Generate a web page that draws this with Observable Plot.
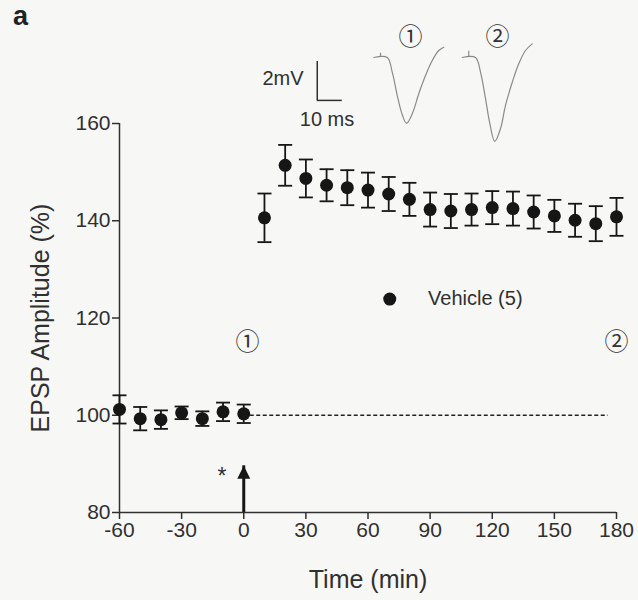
<!DOCTYPE html>
<html><head><meta charset="utf-8">
<script src="https://cdn.jsdelivr.net/npm/d3@7"></script>
<script src="https://cdn.jsdelivr.net/npm/@observablehq/plot@0.6"></script>
<style>
body{margin:0;background:#f7f7f5;}
#wrap{position:relative;width:638px;height:600px;font-family:"Liberation Sans",Arial,sans-serif;}
#panel{position:absolute;left:13px;top:1px;font-size:27px;font-weight:bold;color:#222;}
#main{position:absolute;left:0;top:0;}
#inset{position:absolute;left:250px;top:18px;}
</style></head><body>
<div id="wrap"><div id="panel">a</div><div id="main"></div><div id="inset"></div></div>
<script>
// ---- main time course data ----
const time = [-60,-50,-40,-30,-20,-10,0,10,20,30,40,50,60,70,80,90,100,110,120,130,140,150,160,170,180];
const amplitude = [101.2,99.3,99.1,100.5,99.3,100.7,100.3,140.6,151.4,148.7,147.3,146.8,146.3,145.5,144.4,142.3,142.0,142.3,142.7,142.5,141.8,141.0,140.1,139.4,140.8];
const sem = [2.9,2.4,1.9,1.3,1.5,1.9,1.9,5.0,4.2,3.9,3.3,3.6,3.6,3.5,3.4,3.5,3.5,3.3,3.4,3.5,3.4,3.3,3.4,3.6,3.9];
const xTicks = [-60,-30,0,30,60,90,120,150,180];
const yTicks = [80,100,120,140,160];
const xTitle = "Time (min)";
const yTitle = "EPSP Amplitude (%)";
const legendLabel = "Vehicle (5)";
const legendPos = {t: 70.5, v: 123.9, textT: 89};
const baseline = {v: 100, from: 0, to: 176};
const arrow = {t: 0, from: 80, to: 89.6};
const star = {t: -10.5, v: 87.3, label: "*"};
const markers = [{t: 1.8, v: 115.1, label: "\u2460"}, {t: 180, v: 115.1, label: "\u2461"}];

// ---- inset EPSP traces (ms, mV) ----
const trace1T = [49.3,54.7,56.7,58.7,60.7,62.4,64.7,67.3,70,72.7,75.3,77.3];
const trace1V = [0,0,-0.75,-1.95,-2.94,-3.37,-2.89,-1.86,-0.92,-0.15,0.36,0.53];
const trace2T = [84.7,90,92,94,95.6,97.7,100,102,104.7,107.3,110,112.7];
const trace2V = [0,0,-0.75,-2.1,-3.3,-4.3,-3.65,-2.46,-1.27,-0.32,0.36,0.7];
const artifactT = [52, 87.3];
const artifactV = [0.22, 0.32];
const scaleBar = {t0: 26.7, v0: -2.2, ms: 10, mV: 2};
const mvLabel = {t: 21.2, v: -1.1, label: "2mV"};
const msLabel = {t: 30.6, v: -3.2, label: "10 ms"};
const traceMarkers = [{t: 64, v: 1.03, label: "\u2460"}, {t: 98.8, v: 1.03, label: "\u2461"}];

const data = time.map((t, i) => ({t, v: amplitude[i], e: sem[i]}));
const ink = "#303030";
const dotInk = "#161616";
const capSymbol = {draw(ctx, size) { const r = Math.sqrt(size / Math.PI); ctx.moveTo(-r, 0); ctx.lineTo(r, 0); }};
const headSymbol = {draw(ctx, size) { const r = Math.sqrt(size / Math.PI); ctx.moveTo(0, 0); ctx.lineTo(r, 2 * r); ctx.lineTo(-r, 2 * r); ctx.closePath(); }};
const font = "'Liberation Sans', Arial, sans-serif";
const cjk = "'Noto Sans CJK JP', 'DejaVu Sans', sans-serif";
const plain = d => `${d}`;

const main = Plot.plot({
  width: 638, height: 600,
  marginTop: 123, marginBottom: 88, marginLeft: 119, marginRight: 22,
  style: {background: "transparent", fontFamily: font, color: ink, overflow: "visible"},
  x: {domain: [-60, 180]},
  y: {domain: [80, 160]},
  marks: [
    Plot.axisX({ticks: xTicks, tickFormat: plain, tickSize: 7, tickPadding: 3, fontSize: 21, strokeWidth: 1.5, label: null}),
    Plot.axisY({ticks: yTicks, tickFormat: plain, tickSize: 7, tickPadding: 2, fontSize: 21, strokeWidth: 1.5, label: null}),
    Plot.ruleX([-60], {y1: 80, y2: 160, stroke: ink, strokeWidth: 1.5}),
    Plot.ruleY([80], {x1: -60, x2: 180, stroke: ink, strokeWidth: 1.5}),
    Plot.ruleY([baseline.v], {x1: baseline.from, x2: baseline.to, stroke: "#222", strokeWidth: 1.3, strokeDasharray: "4,2.5"}),
    Plot.ruleX(data, {x: "t", y1: d => d.v - d.e, y2: d => d.v + d.e, stroke: dotInk, strokeWidth: 1.8}),
    Plot.dot(data, {x: "t", y: d => d.v - d.e, symbol: capSymbol, r: 7, fill: "none", stroke: dotInk, strokeWidth: 1.8}),
    Plot.dot(data, {x: "t", y: d => d.v + d.e, symbol: capSymbol, r: 7, fill: "none", stroke: dotInk, strokeWidth: 1.8}),
    Plot.dot(data, {x: "t", y: "v", r: 6.5, fill: dotInk, stroke: "none"}),
    Plot.dot([legendPos], {x: "t", y: "v", r: 6.5, fill: dotInk, stroke: "none"}),
    Plot.text([legendPos], {x: "textT", y: "v", text: () => legendLabel, textAnchor: "start", fontSize: 20, fill: ink}),
    Plot.ruleX([arrow], {x: "t", y1: "from", y2: "to", stroke: dotInk, strokeWidth: 3}),
    Plot.dot([arrow], {x: "t", y: "to", symbol: headSymbol, r: 6.5, fill: dotInk, stroke: "none"}),
    Plot.text([star], {x: "t", y: "v", text: "label", fontSize: 23, fill: ink}),
    Plot.text(markers, {x: "t", y: "v", text: "label", fontSize: 24, fontFamily: cjk, fill: "#333"}),
    Plot.text([xTitle], {frameAnchor: "bottom", dy: 67, text: d => d, textAnchor: "middle", lineAnchor: "middle", fontSize: 25, fill: ink}),
    Plot.text([yTitle], {frameAnchor: "left", dx: -79, rotate: -90, text: d => d, textAnchor: "middle", lineAnchor: "middle", fontSize: 25, fill: ink})
  ]
});
document.getElementById("main").appendChild(main);

const tr1 = trace1T.map((t, i) => ({t, v: trace1V[i]}));
const tr2 = trace2T.map((t, i) => ({t, v: trace2V[i]}));
const arts = artifactT.map((t, i) => ({t, v: artifactV[i]}));

const inset = Plot.plot({
  width: 300, height: 132, margin: 0,
  style: {background: "transparent", fontFamily: font, color: ink, overflow: "visible"},
  x: {domain: [0, 120], axis: null},
  y: {domain: [-4.769, 2.0], axis: null},
  marks: [
    Plot.line(tr1, {x: "t", y: "v", curve: "catmull-rom", stroke: "#8a8a8a", strokeWidth: 1.2}),
    Plot.line(tr2, {x: "t", y: "v", curve: "catmull-rom", stroke: "#8a8a8a", strokeWidth: 1.2}),
    Plot.ruleX(arts, {x: "t", y1: 0, y2: "v", stroke: "#8a8a8a", strokeWidth: 1.2}),
    Plot.ruleX([scaleBar], {x: "t0", y1: "v0", y2: d => d.v0 + d.mV, stroke: ink, strokeWidth: 1.5}),
    Plot.ruleY([scaleBar], {y: "v0", x1: "t0", x2: d => d.t0 + d.ms, stroke: ink, strokeWidth: 1.5}),
    Plot.text([mvLabel], {x: "t", y: "v", text: "label", textAnchor: "end", fontSize: 20, fill: ink}),
    Plot.text([msLabel], {x: "t", y: "v", text: "label", textAnchor: "middle", fontSize: 20, fill: ink}),
    Plot.text(traceMarkers, {x: "t", y: "v", text: "label", fontSize: 24, fontFamily: cjk, fill: "#333"})
  ]
});
document.getElementById("inset").appendChild(inset);
</script>
</body></html>
